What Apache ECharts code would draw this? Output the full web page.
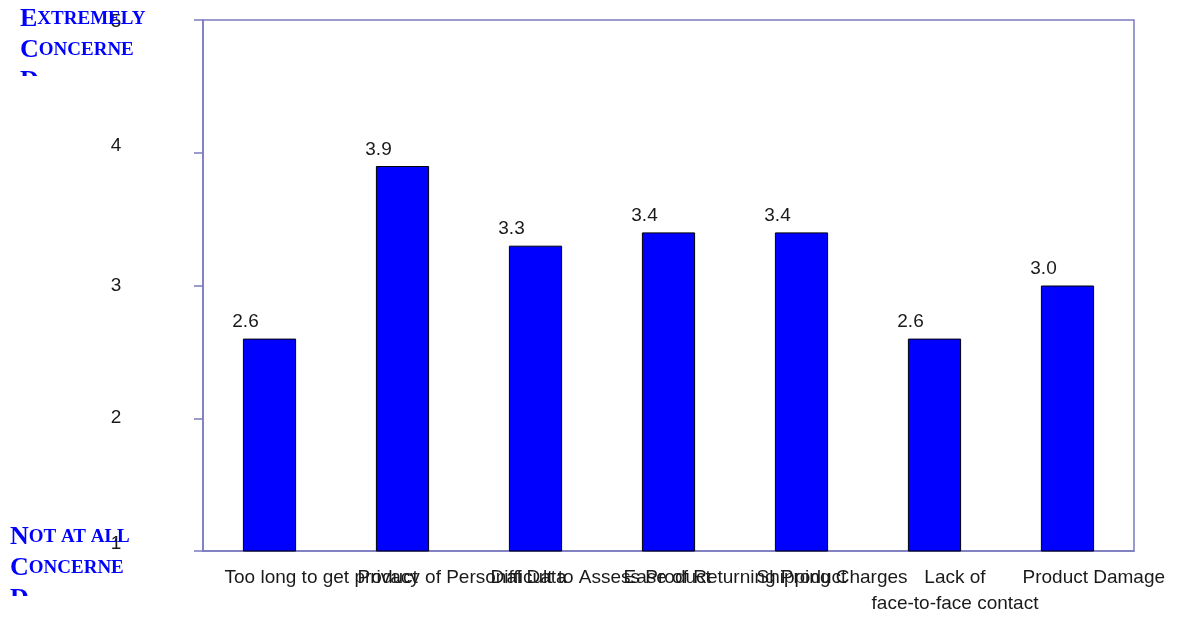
<!DOCTYPE html>
<html>
<head>
<meta charset="utf-8">
<script src="https://cdn.jsdelivr.net/npm/echarts@6/dist/echarts.min.js"></script>
<style>
html,body{margin:0;padding:0;background:#fff;}
#chart{width:1183px;height:618px;}
</style>
</head>
<body>
<div id="chart"></div>
<script>
// ---- data ----
const categories = [
  'Too long to get product',
  'Privacy of Personal Data',
  'Difficult to Assess Product',
  'Ease of Returning Product',
  'Shipping Charges',
  'Lack of\nface-to-face contact',
  'Product Damage'
];
const concernScores = [2.6, 3.9, 3.3, 3.4, 3.4, 2.6, 3.0];
const yMin = 1, yMax = 5, yStep = 1;
const topLabel = ['EXTREMELY', 'CONCERNE', 'D'];
const bottomLabel = ['NOT AT ALL', 'CONCERNE', 'D'];

// ---- styling ----
const FONT = '"Liberation Sans", Arial, sans-serif';
const FS = 19;
const FRAME = '#7b7bc0';
const TXT = '#1a1a1a';
const SERIF = '"Liberation Serif", "DejaVu Serif", serif';

function smallCaps(line) {
  const rest = line.slice(1);
  return '{b|' + line.charAt(0) + '}' + (rest ? '{s|' + rest + '}' : '');
}
function sideText(lines) {
  return lines.map(smallCaps).join('\n');
}
const sideRich = {
  b: { fontFamily: SERIF, fontWeight: 'bold', fontSize: 26, color: '#0000ff', lineHeight: 31 },
  s: { fontFamily: SERIF, fontWeight: 'bold', fontSize: 19, color: '#0000ff', lineHeight: 31 }
};

const chart = echarts.init(document.getElementById('chart'), null, { renderer: 'canvas' });

const option = {
  backgroundColor: '#ffffff',
  animation: false,
  grid: {
    left: 203, top: 20, right: 49, bottom: 67,
    outerBoundsMode: 'none',
    containLabel: false,
    show: true, borderColor: FRAME, borderWidth: 1.5, backgroundColor: 'transparent'
  },
  xAxis: {
    type: 'category',
    data: categories,
    axisLine: { show: true, lineStyle: { color: FRAME, width: 1.5 } },
    axisTick: { show: false },
    axisLabel: {
      interval: 0,
      hideOverlap: false,
      margin: 14,
      color: TXT,
      fontFamily: FONT,
      fontSize: FS,
      formatter: function (v) {
        if (v.indexOf('\n') >= 0) {
          return v.split('\n').map(function (l) { return '{c|' + l + '}'; }).join('\n');
        }
        return '{n|' + v + '}';
      },
      rich: {
        n: { width: 90, align: 'left', fontFamily: FONT, fontSize: FS, lineHeight: 26, color: TXT },
        c: { align: 'center', padding: [0, 0, 0, 41], fontFamily: FONT, fontSize: FS, lineHeight: 26, color: TXT }
      }
    },
    splitLine: { show: false }
  },
  yAxis: {
    type: 'value',
    min: yMin, max: yMax, interval: yStep,
    axisLine: { show: true, lineStyle: { color: FRAME, width: 1.5 } },
    axisTick: { show: true, inside: false, length: 9, lineStyle: { color: FRAME, width: 1.5 } },
    axisLabel: {
      margin: 87,
      align: 'center',
      color: TXT,
      fontFamily: FONT,
      fontSize: FS,
      formatter: function (v) {
        if (v === 1 || v === 4) return '{u|' + v + '}';
        if (v === 5) return '{d|' + v + '}';
        return '{m|' + v + '}';
      },
      rich: {
        u: { fontFamily: FONT, fontSize: FS, color: TXT, padding: [0, 0, 14, 0] },
        d: { fontFamily: FONT, fontSize: FS, color: TXT, padding: [4, 0, 0, 0] },
        m: { fontFamily: FONT, fontSize: FS, color: TXT }
      }
    },
    splitLine: { show: false }
  },
  series: [{
    type: 'bar',
    data: concernScores,
    barWidth: '40%',
    itemStyle: { color: '#0000ff', borderColor: '#000000', borderWidth: 1 },
    label: {
      show: true,
      position: 'top',
      distance: 7,
      offset: [-24, 0],
      color: TXT,
      fontFamily: FONT,
      fontSize: FS,
      formatter: function (p) { return p.value.toFixed(1); }
    }
  }],
  graphic: [
    {
      type: 'text', left: 20, top: 6, z: 1,
      style: { text: sideText(topLabel), rich: sideRich, fill: '#0000ff' }
    },
    {
      type: 'rect', z: 2, shape: { x: 0, y: 76, width: 190, height: 40 },
      style: { fill: '#ffffff' }
    },
    {
      type: 'text', left: 10, top: 524, z: 1,
      style: { text: sideText(bottomLabel), rich: sideRich, fill: '#0000ff' }
    },
    {
      type: 'rect', z: 2, shape: { x: 0, y: 596, width: 190, height: 30 },
      style: { fill: '#ffffff' }
    }
  ]
};

chart.setOption(option);
</script>
</body>
</html>
